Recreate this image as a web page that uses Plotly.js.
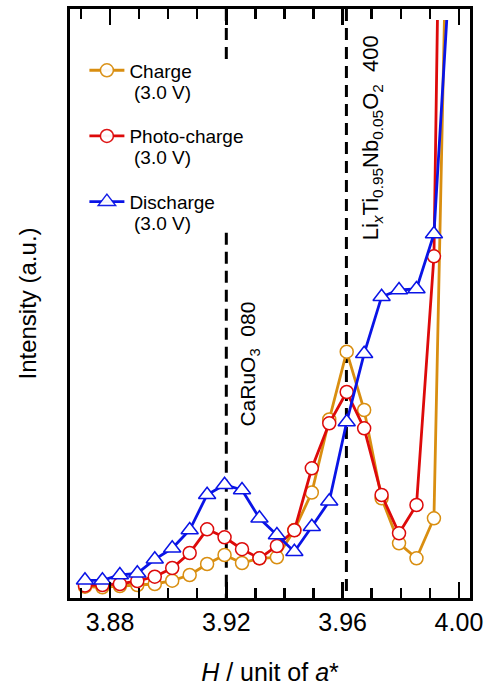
<!DOCTYPE html>
<html>
<head>
<meta charset="utf-8">
<script src="https://cdn.plot.ly/plotly-3.0.1.min.js"></script>
<style>html,body{margin:0;padding:0;background:#fff;}#chart{width:493px;height:686px;}</style>
</head>
<body>
<div id="chart"></div>
<script>
// H positions (unit of a*) shared by all three scans
const hGrid = [3.8714, 3.8774, 3.8834, 3.8894, 3.8954, 3.9014, 3.9074, 3.9134, 3.9194, 3.9254, 3.9314,
               3.9374, 3.9434, 3.9494, 3.9554, 3.9614, 3.9674, 3.9734, 3.9794, 3.9854, 3.9914];
// last (off-scale) point of each scan
const chargeEndH = 3.9950;
const photoEndH = 3.9926;
const dischargeEndH = 3.9958;

// Intensity (a.u.)
const chargeI = [13.3, 12.7, 14, 15, 16, 19.3, 25, 36, 45, 37, 41.7, 42.7, 70, 107.5, 180.5, 248.3,
                 190, 101.7, 56.7, 41.7, 81.7, 580];
const photoI = [14.5, 15, 16, 19, 23.3, 32, 47, 70.7, 62.7, 50.8, 41.7, 54, 69.7, 131.7, 176.7, 208,
                171.7, 105, 66.7, 95, 343.7, 580];
const dischargeI = [19.7, 19.7, 25, 26.7, 40.7, 51.7, 70, 105.3, 115.3, 110, 81.7, 65, 48.3, 73.3, 98.7,
                    178, 246.3, 303.3, 310, 311, 366, 580];

const seriesNames = ['Charge', 'Photo-charge', 'Discharge'];
const seriesSub = ['(3.0 V)', '(3.0 V)', '(3.0 V)'];
const refLines = [3.92, 3.9613];

const FONT = 'Liberation Sans, Arial, Helvetica, sans-serif';
const colors = ['#D98E10', '#DD0A0A', '#0A14E6'];

function opac(arr) { return arr.map((_, i) => (i === arr.length - 1 ? 0 : 1)); }

function mk(name, hx, yy, color, symbol, size, grp) {
  return {
    type: 'scatter', mode: 'lines+markers', name: name, legendgroup: grp,
    x: hx, y: yy, cliponaxis: true,
    line: {color: color, width: 2.8},
    marker: {symbol: symbol, size: size, color: '#ffffff', opacity: opac(yy),
             line: {color: color, width: 1.5}}
  };
}

const traces = [
  mk(seriesNames[0], hGrid.concat([chargeEndH]), chargeI, colors[0], 'circle', 13, 'g1'),
  mk(seriesNames[1], hGrid.concat([photoEndH]), photoI, colors[1], 'circle', 13, 'g2'),
  mk(seriesNames[2], hGrid.concat([dischargeEndH]), dischargeI, colors[2], 'triangle-up', 15, 'g3')
];

const dashStyle = {color: '#000', width: 3, dash: '12px,7px'};
const shapes = [
  {type: 'line', xref: 'x', yref: 'paper', x0: refLines[0], x1: refLines[0], y0: 1, y1: 0.913, line: dashStyle, layer: 'below'},
  {type: 'line', xref: 'x', yref: 'paper', x0: refLines[0], x1: refLines[0], y0: 0.62, y1: 0, line: dashStyle, layer: 'below'},
  {type: 'line', xref: 'x', yref: 'paper', x0: refLines[1], x1: refLines[1], y0: 1, y1: 0, line: dashStyle, layer: 'below'}
];

const annFont = {family: FONT, size: 21, color: '#000'};
const annotations = [
  {xref: 'x', yref: 'paper', x: 3.9278, y: 0.398, text: 'CaRuO<sub>3</sub>\u00a0\u00a0080', textangle: -90,
   showarrow: false, xanchor: 'center', yanchor: 'middle', font: annFont},
  {xref: 'x', yref: 'paper', x: 3.9704, y: 0.782,
   text: 'Li<sub><i>x</i></sub>Ti<sub>0.95</sub>Nb<sub>0.05</sub>O<sub>2</sub>\u00a0\u00a0400', textangle: -90,
   showarrow: false, xanchor: 'center', yanchor: 'middle', font: {family: FONT, size: 22, color: '#000'}}
];
const subY = [0.8575, 0.7485, 0.6355];
seriesSub.forEach((t, i) => annotations.push({
  xref: 'paper', yref: 'paper', x: 0.1575, y: subY[i], text: t, showarrow: false, borderpad: 0,
  xanchor: 'left', yanchor: 'middle', font: {family: FONT, size: 19, color: '#000'}
}));

const layout = {
  width: 493, height: 686,
  margin: {l: 70, r: 23, t: 9, b: 88},
  paper_bgcolor: '#fff', plot_bgcolor: '#fff',
  font: {family: FONT, color: '#000'},
  showlegend: true,
  legend: {x: 0.036, y: 0.928, xanchor: 'left', yanchor: 'top', traceorder: 'grouped',
           tracegroupgap: 38, itemwidth: 35, bgcolor: 'rgba(0,0,0,0)',
           font: {family: FONT, size: 19, color: '#000'}},
  xaxis: {
    range: [3.86625, 4.0038], showgrid: false, zeroline: false,
    showline: true, linecolor: '#000', linewidth: 3, mirror: 'ticks',
    ticks: 'inside', ticklen: 16, tickwidth: 2.5, tickcolor: '#000',
    tick0: 3.88, dtick: 0.04, tickformat: '.2f',
    tickfont: {family: FONT, size: 25, color: '#000'},
    minor: {ticks: 'inside', tick0: 3.88, dtick: 0.01, ticklen: 10, tickwidth: 2.5, tickcolor: '#000', showgrid: false},
    title: {text: '<i>H</i> / unit of <i>a</i>*', font: {family: FONT, size: 25, color: '#000'}, standoff: 30}
  },
  yaxis: {
    range: [2, 591], showgrid: false, zeroline: false,
    showline: true, linecolor: '#000', linewidth: 3, mirror: true,
    ticks: '', showticklabels: false,
    title: {text: 'Intensity (a.u.)', font: {family: FONT, size: 24, color: '#000'}, standoff: 24}
  },
  shapes: shapes,
  annotations: annotations
};

Plotly.newPlot('chart', traces, layout, {displayModeBar: false, staticPlot: true});
</script>
</body>
</html>
